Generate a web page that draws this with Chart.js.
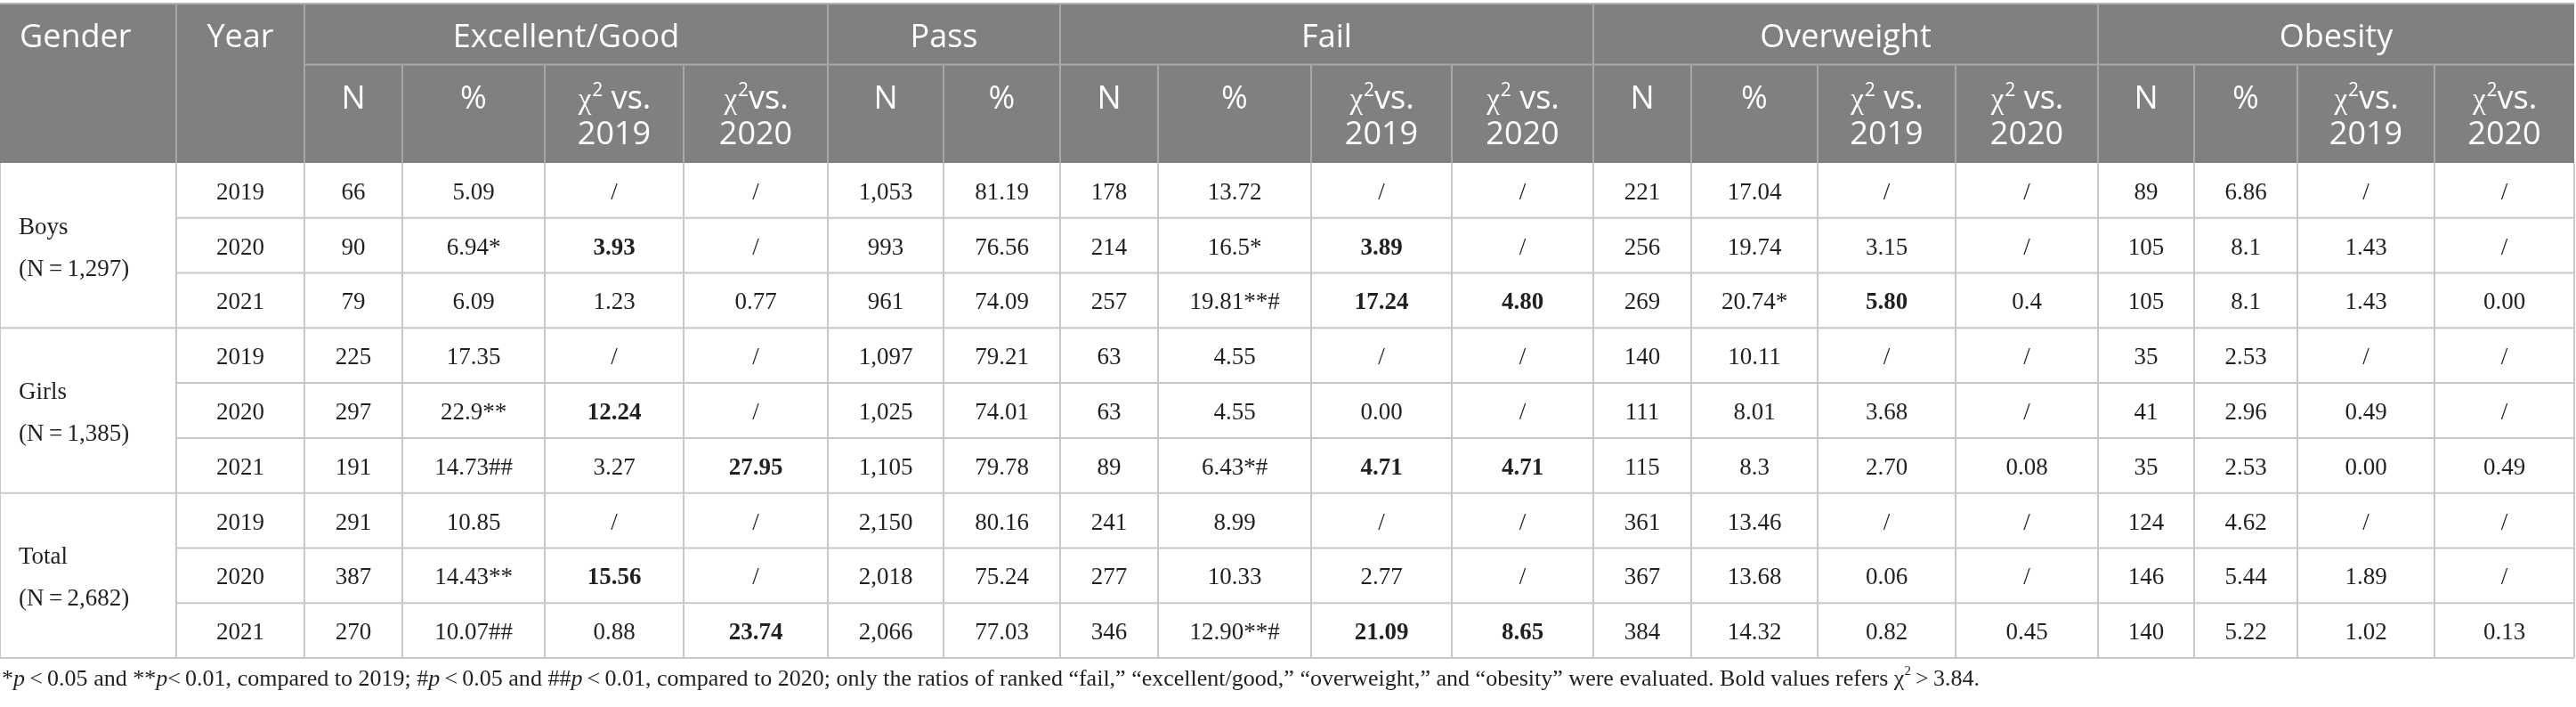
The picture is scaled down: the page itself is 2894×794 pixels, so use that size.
<!DOCTYPE html>
<html><head><meta charset="utf-8">
<script src="https://cdn.jsdelivr.net/npm/chart.js@4.4.0/dist/chart.umd.min.js"></script>
<style>html,body{margin:0;padding:0;background:#fff;overflow:hidden}canvas{display:block}</style>
</head><body>
<canvas id="c" width="2894" height="794"></canvas>
<script>
// ---------- DATA ----------
const genders = ['Boys', 'Girls', 'Total'];
const genderN = ['1,297', '1,385', '2,682'];
const years = ['2019', '2020', '2021'];
const groupLabels = ['Excellent/Good', 'Pass', 'Fail', 'Overweight', 'Obesity'];
const subLabels = ['N', '%', 'χ2 vs.|2019', 'χ2vs.|2020',
                   'N', '%',
                   'N', '%', 'χ2vs.|2019', 'χ2 vs.|2020',
                   'N', '%', 'χ2 vs.|2019', 'χ2 vs.|2020',
                   'N', '%', 'χ2vs.|2019', 'χ2vs.|2020'];

const excN     = ['66', '90', '79', '225', '297', '191', '291', '387', '270'];
const excPct   = ['5.09', '6.94*', '6.09', '17.35', '22.9**', '14.73##', '10.85', '14.43**', '10.07##'];
const excChi19 = ['/', '3.93', '1.23', '/', '12.24', '3.27', '/', '15.56', '0.88'];
const excChi20 = ['/', '/', '0.77', '/', '/', '27.95', '/', '/', '23.74'];

const passN    = ['1,053', '993', '961', '1,097', '1,025', '1,105', '2,150', '2,018', '2,066'];
const passPct  = ['81.19', '76.56', '74.09', '79.21', '74.01', '79.78', '80.16', '75.24', '77.03'];

const failN     = ['178', '214', '257', '63', '63', '89', '241', '277', '346'];
const failPct   = ['13.72', '16.5*', '19.81**#', '4.55', '4.55', '6.43*#', '8.99', '10.33', '12.90**#'];
const failChi19 = ['/', '3.89', '17.24', '/', '0.00', '4.71', '/', '2.77', '21.09'];
const failChi20 = ['/', '/', '4.80', '/', '/', '4.71', '/', '/', '8.65'];

const owN     = ['221', '256', '269', '140', '111', '115', '361', '367', '384'];
const owPct   = ['17.04', '19.74', '20.74*', '10.11', '8.01', '8.3', '13.46', '13.68', '14.32'];
const owChi19 = ['/', '3.15', '5.80', '/', '3.68', '2.70', '/', '0.06', '0.82'];
const owChi20 = ['/', '/', '0.4', '/', '/', '0.08', '/', '/', '0.45'];

const obN     = ['89', '105', '105', '35', '41', '35', '124', '146', '140'];
const obPct   = ['6.86', '8.1', '8.1', '2.53', '2.96', '2.53', '4.62', '5.44', '5.22'];
const obChi19 = ['/', '1.43', '1.43', '/', '0.49', '0.00', '/', '1.89', '1.02'];
const obChi20 = ['/', '/', '0.00', '/', '/', '0.49', '/', '/', '0.13'];

const valueColumns = [excN, excPct, excChi19, excChi20, passN, passPct,
                      failN, failPct, failChi19, failChi20,
                      owN, owPct, owChi19, owChi20,
                      obN, obPct, obChi19, obChi20];
const chiThreshold = 3.84;

// ---------- LAYOUT (positions in scale units) ----------
const colEdges = [0, 198, 342, 452, 612, 768, 930, 1060, 1191, 1301, 1473, 1631, 1790, 1900, 2042, 2197, 2357, 2465, 2581, 2735, 2892];
const groupSpans = [[2, 6], [6, 8], [8, 12], [12, 16], [16, 20]];
const headTop = 4, headMid = 72.5, headBottom = 183, bodyBottom = 739;
const nRows = genders.length * years.length;

const HEAD_BG = '#7f817f';
const HEAD_LINE = '#a7a8a7';
const BODY_LINE = '#c8c8c8';
const TXT = '#231f20';
const headFont = '36px "Open Sans"';
const chiFont = '33px "Liberation Serif"';
const supFont = '21px "Open Sans"';
const bodyFont = '27px "Liberation Serif"';
const bodyBold = 'bold 27px "Liberation Serif"';

const footRuns = [
  ['*', 'n'], ['p', 'i'], ['\u2009<\u20090.05 and **', 'n'], ['p', 'i'], ['<\u20090.01, compared to 2019; #', 'n'],
  ['p', 'i'], ['\u2009<\u20090.05 and ##', 'n'], ['p', 'i'],
  ['\u2009<\u20090.01, compared to 2020; only the ratios of ranked \u201cfail,\u201d \u201cexcellent/good,\u201d \u201coverweight,\u201d and \u201cobesity\u201d were evaluated. Bold values refers \u03c7', 'n'],
  ['2', 's'], ['\u2009>\u20093.84.', 'n']
];

const tablePlugin = {
  id: 'tablePlugin',
  afterDraw(chart) {
    const ctx = chart.ctx;
    const xs = chart.scales.x, ys = chart.scales.y;
    const X = v => xs.getPixelForValue(v);
    const Y = v => ys.getPixelForValue(v);
    const rowEdge = i => headBottom + (bodyBottom - headBottom) * i / nRows;
    const L = colEdges[0], R = colEdges[colEdges.length - 1];

    function line(x1, y1, x2, y2, color, w) {
      ctx.save(); ctx.strokeStyle = color; ctx.lineWidth = w;
      ctx.beginPath(); ctx.moveTo(X(x1), Y(y1)); ctx.lineTo(X(x2), Y(y2)); ctx.stroke(); ctx.restore();
    }
    function text(t, x, y, font, color, align) {
      ctx.save(); ctx.font = font; ctx.fillStyle = color; ctx.textAlign = align || 'center';
      ctx.textBaseline = 'alphabetic'; ctx.fillText(t, X(x), Y(y)); ctx.restore();
    }
    function chiText(t, cx, y) {
      // t like 'χ2 vs.' : chi + superscript 2 + rest
      const rest = t.slice(2);
      ctx.save();
      ctx.font = chiFont; const w1 = ctx.measureText('χ').width;
      ctx.font = supFont; const w2 = ctx.measureText('2').width;
      ctx.font = headFont; const w3 = ctx.measureText(rest).width;
      let x = X(cx) - (w1 + w2 + w3) / 2;
      ctx.fillStyle = '#fff'; ctx.textAlign = 'left'; ctx.textBaseline = 'alphabetic';
      ctx.font = chiFont; ctx.fillText('χ', x, Y(y)); x += w1 + 1;
      ctx.font = supFont; ctx.fillText('2', x, Y(y) - 14); x += w2;
      ctx.font = headFont; ctx.fillText(rest, x, Y(y));
      ctx.restore();
    }

    // header background
    ctx.save(); ctx.fillStyle = HEAD_BG;
    ctx.fillRect(X(L), Y(headTop), X(R) - X(L), Y(headBottom) - Y(headTop)); ctx.restore();
    line(L, headTop, R, headTop, '#b4b4b4', 2);
    // header dividers
    const groupEdgeIdx = new Set([0, 1, 2, ...groupSpans.map(s => s[1])]);
    colEdges.forEach((c, i) => {
      if (i === 0 || i === colEdges.length - 1) return;
      if (groupEdgeIdx.has(i)) line(c, headTop, c, headBottom, HEAD_LINE, 2);
      else line(c, headMid, c, headBottom, HEAD_LINE, 2);
    });
    line(colEdges[2], headMid, R, headMid, HEAD_LINE, 2);

    // header texts
    text('Gender', 22, 53, headFont, '#fff', 'left');
    text('Year', (colEdges[1] + colEdges[2]) / 2, 53, headFont, '#fff');
    groupLabels.forEach((g, i) => {
      const s = groupSpans[i];
      text(g, (colEdges[s[0]] + colEdges[s[1]]) / 2, 53, headFont, '#fff');
    });
    subLabels.forEach((lab, i) => {
      const cx = (colEdges[i + 2] + colEdges[i + 3]) / 2;
      const parts = lab.split('|');
      if (parts[0].startsWith('χ2')) chiText(parts[0], cx, 122);
      else text(parts[0], cx, 122, headFont, '#fff');
      if (parts[1]) text(parts[1], cx, 162, headFont, '#fff');
    });

    // body grid
    for (let r = 1; r <= nRows; r++) {
      const y = rowEdge(r);
      const full = (r % years.length === 0);
      line(full ? L : colEdges[1], y, R, y, BODY_LINE, 2);
    }
    colEdges.forEach(c => line(c, headBottom, c, bodyBottom, BODY_LINE, 2));

    // body texts
    genders.forEach((g, gi) => {
      const cy = (rowEdge(gi * 3) + rowEdge(gi * 3 + 3)) / 2;
      text(g, 21, cy - 13, bodyFont, TXT, 'left');
      text('(N\u2009=\u2009' + genderN[gi] + ')', 21, cy + 34, bodyFont, TXT, 'left');
    });
    for (let r = 0; r < nRows; r++) {
      const cy = (rowEdge(r) + rowEdge(r + 1)) / 2 + 10;
      text(years[r % 3], (colEdges[1] + colEdges[2]) / 2, cy, bodyFont, TXT);
      valueColumns.forEach((col, ci) => {
        const v = col[r];
        const isChi = subLabels[ci].startsWith('χ');
        const bold = isChi && v !== '/' && parseFloat(v) > chiThreshold;
        text(v, (colEdges[ci + 2] + colEdges[ci + 3]) / 2, cy, bold ? bodyBold : bodyFont, TXT);
      });
    }

    // footnote
    const fs = 26;
    const fonts = { n: fs + 'px "Liberation Serif"', i: 'italic ' + fs + 'px "Liberation Serif"', s: '15px "Liberation Serif"' };
    ctx.save();
    let total = 0;
    footRuns.forEach(([t, s]) => { ctx.font = fonts[s]; total += ctx.measureText(t).width; });
    const target = X(2224) - X(2);
    const sx = target / total;
    ctx.translate(X(2), Y(770));
    ctx.scale(sx, 1);
    ctx.fillStyle = TXT; ctx.textBaseline = 'alphabetic'; ctx.textAlign = 'left';
    let x = 0;
    footRuns.forEach(([t, s]) => {
      ctx.font = fonts[s];
      ctx.fillText(t, x, s === 's' ? -12 : 0);
      x += ctx.measureText(t).width;
    });
    ctx.restore();
  }
};

new Chart(document.getElementById('c'), {
  type: 'scatter',
  data: { datasets: [{ data: [], pointRadius: 0 }] },
  options: {
    responsive: false,
    devicePixelRatio: 1,
    animation: false,
    layout: { padding: 0 },
    plugins: { legend: { display: false }, tooltip: { enabled: false } },
    scales: {
      x: { type: 'linear', min: 0, max: 2894, display: false },
      y: { type: 'linear', min: 0, max: 794, reverse: true, display: false }
    }
  },
  plugins: [tablePlugin]
});
</script>
</body></html>
